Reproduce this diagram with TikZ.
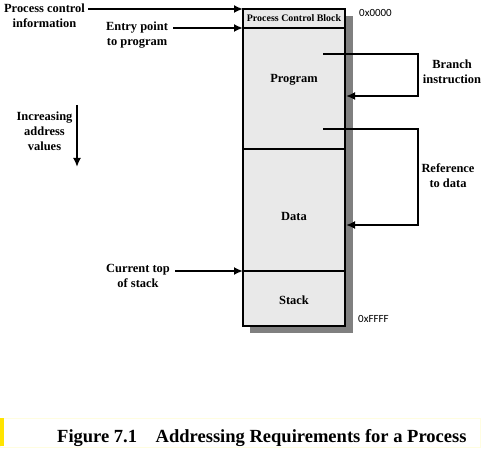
\documentclass[tikz,border=0pt]{standalone}
\usepackage{fontspec}
\setmainfont{Liberation Serif}
\newfontfamily\hexfont{Carlito}
\usetikzlibrary{arrows.meta,positioning}
\definecolor{capbar}{RGB}{255,228,0}
\definecolor{shadowgray}{RGB}{128,128,128}

\begin{document}
\begin{tikzpicture}[x=1bp,y=-1bp,
  seg/.style={draw,line width=2bp,fill=gray!17,minimum width=102bp,inner sep=0pt,outer sep=0pt},
  segtext/.style={inner sep=0pt,font=\bfseries\fontsize{12.5}{15}\selectfont},
  lbl/.style={align=center,inner sep=1bp,font=\bfseries\fontsize{12.5}{15}\selectfont},
  hex/.style={anchor=west,inner sep=0pt,font=\hexfont\fontsize{11}{13}\selectfont},
  arr/.style={line width=2bp,-{Latex[length=9bp,width=8bp]}}]
\useasboundingbox (0,0) rectangle (488,452);

% shadow of the memory block
\fill[shadowgray] (250,16) rectangle (353,333);

\node [seg,minimum height=19bp,anchor=north west] at (243,9) (pcb) {};
\node [seg,minimum height=121bp,below=0pt of pcb] (prog) {};
\node [seg,minimum height=122bp,below=0pt of prog] (data) {};
\node [seg,minimum height=55bp,below=0pt of data] (stack) {};

\node [segtext,font=\bfseries\fontsize{10}{12}\selectfont] at (pcb.center) (pcbT) {Process Control Block};
\node [segtext] at ([yshift=8.5bp]prog.center) (progT) {Program};
\node [segtext] at ([yshift=-6.5bp]data.center) (dataT) {Data};
\node [segtext] at ([yshift=-1.5bp]stack.center) (stackT) {Stack};

\node [hex] at (359,13) (lo) {0x0000};
\node [hex] at (358,319) (hi) {0xFFFF};

\node [lbl] at (44.5,16) (pci) {Process control\\information};
\node [lbl] at (137,35) (entry) {Entry point\\to program};
\node [lbl] at (44.5,131.5) (incr) {Increasing\\address\\values};
\node [lbl] at (452,72) (br) {Branch\\instruction};
\node [lbl] at (448,176) (ref) {Reference\\to data};
\node [lbl] at (138,276) (cur) {Current top\\of stack};

\draw [arr] (pci.east |- pcb.north west) ++(2,0) -- (pcb.north west);
\draw [arr] (entry.east |- prog.north west) ++(4,0) -- (prog.north west);
\draw [arr] (cur.east |- stack.north west) ++(4,0) -- (stack.north west);

\coordinate (incrS) at (77,105);
\coordinate (incrE) at (77,167);
\draw [arr] (incrS) -- (incrE);

\coordinate (brS) at (323,54);
\coordinate (brE) at (346,96);
\draw [arr] (brS) -- ++(95,0) |- (brE);

\coordinate (refS) at (323,129);
\coordinate (refE) at (346,225);
\draw [arr] (refS) -- ++(95,0) |- (refE);

% caption
\draw [yellow!12, line width=0.8bp] (0,418) rectangle (480,447);
\fill [capbar] (0,418) rectangle (4,446);
\node [anchor=base west,inner sep=0pt,font=\bfseries\fontsize{18.6}{20}\selectfont] at (57,442) (cap) {Figure 7.1\hspace{1em}Addressing Requirements for a Process};
\end{tikzpicture}
\end{document}
